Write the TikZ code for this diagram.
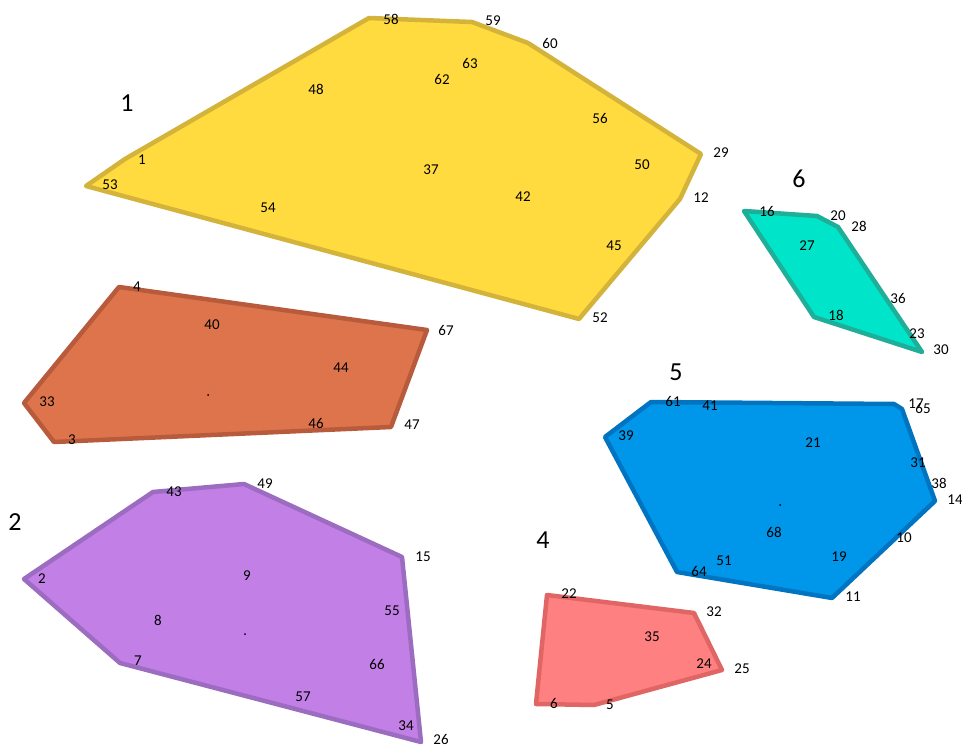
\documentclass[tikz,border=0pt]{standalone}
\usepackage{fontspec}
\setmainfont{Carlito}
\definecolor{GoldFill}{HTML}{FFDB40}
\definecolor{GoldLine}{HTML}{D4B33A}
\definecolor{RustFill}{HTML}{DE744C}
\definecolor{RustLine}{HTML}{B75B3C}
\definecolor{LilacFill}{HTML}{C27FE6}
\definecolor{LilacLine}{HTML}{9B6CC0}
\definecolor{CoralFill}{HTML}{FF8080}
\definecolor{CoralLine}{HTML}{E06666}
\definecolor{SkyFill}{HTML}{0096E9}
\definecolor{SkyLine}{HTML}{0074C0}
\definecolor{MintFill}{HTML}{00E5CA}
\definecolor{MintLine}{HTML}{1FAE98}
\tikzset{
   region/.style={line width=4.5pt, line join=round},
   ptlabel/.style={font=\fontsize{15}{17}\selectfont, inner sep=0pt},
   grouplabel/.style={font=\fontsize{26}{28}\selectfont, inner sep=0pt},
   centre/.style={fill=black, circle, inner sep=0pt, minimum size=2pt}
}

\begin{document}
\begin{tikzpicture}[x=1pt, y=-1pt]
            \useasboundingbox (0,0) rectangle (962,746);
            % regions
            \draw[region, fill=GoldFill, draw=GoldLine] (86,186) -- (125,159) -- (369,18) -- (472,22)
               -- (528,43) -- (701,154) -- (680,199) -- (579,319) -- cycle;
            \draw[region, fill=RustFill, draw=RustLine] (119,287) -- (427,330) -- (391,427)
               -- (54,442) -- (24,403) -- cycle;
            \draw[region, fill=LilacFill, draw=LilacLine] (24,579) -- (153,492) -- (244,484)
               -- (402,557) -- (421,742) -- (120,663) -- cycle;
            \draw[region, fill=CoralFill, draw=CoralLine] (547,595) -- (694,613) -- (722,670)
               -- (594,705) -- (536,704) -- cycle;
            \draw[region, fill=SkyFill, draw=SkyLine] (605,437) -- (651,402) -- (894,404)
               -- (902,409) -- (935,501) -- (832,598) -- (677,572) -- cycle;
            \draw[region, fill=MintFill, draw=MintLine] (744,211) -- (817,216) -- (838,227)
               -- (922,352) -- (814,317) -- cycle;
            % centres
            \node[centre] (c3) at (208,395) {};
            \node[centre] (c2) at (245,634) {};
            \node[centre] (c5) at (780,505) {};
            % group numbers
            \node[grouplabel] (g1) at (127,103) {1};
            \node[grouplabel] (g2) at (15,522) {2};
            \node[grouplabel] (g4) at (543,540) {4};
            \node[grouplabel] (g5) at (676,372) {5};
            \node[grouplabel] (g6) at (799,179) {6};
            % point numbers
            \foreach \n/\x/\y in {1/142/160, 53/110/185, 58/391/19, 59/493/21, 60/550/43,
               63/470/63, 62/442/79, 48/316/89, 56/600/118, 29/721/153, 50/642/165,
               37/431/170, 42/523/197, 12/701/198, 54/268/208, 45/614/246, 52/600/318}
               \node[ptlabel] (p\n) at (\x,\y) {\n};
            \foreach \n/\x/\y in {4/137/287, 40/212/325, 67/446/330, 44/341/368, 33/47/402,
               46/316/423, 47/412/425, 3/72/440}
               \node[ptlabel] (p\n) at (\x,\y) {\n};
            \foreach \n/\x/\y in {43/174/492, 49/265/484, 2/42/579, 15/423/557, 9/247/576,
               8/158/620, 55/392/611, 7/138/661, 66/377/664, 57/303/697, 34/406/726, 26/441/739}
               \node[ptlabel] (p\n) at (\x,\y) {\n};
            \foreach \n/\x/\y in {22/569/594, 32/714/612, 35/652/637, 24/704/664, 25/742/669,
               6/554/703, 5/610/705}
               \node[ptlabel] (p\n) at (\x,\y) {\n};
            \foreach \n/\x/\y in {61/673/401, 41/710/406, 17/916/404, 65/923/408, 39/626/436,
               21/813/443, 31/918/463, 38/939/483, 14/955/500, 68/774/532, 10/904/538,
               19/839/557, 51/724/561, 64/699/571, 11/853/597}
               \node[ptlabel] (p\n) at (\x,\y) {\n};
            \foreach \n/\x/\y in {16/767/211, 20/838/216, 28/859/226, 27/807/246, 36/898/298,
               18/836/315, 23/917/334, 30/941/350}
               \node[ptlabel] (p\n) at (\x,\y) {\n};
         \end{tikzpicture}
\end{document}
